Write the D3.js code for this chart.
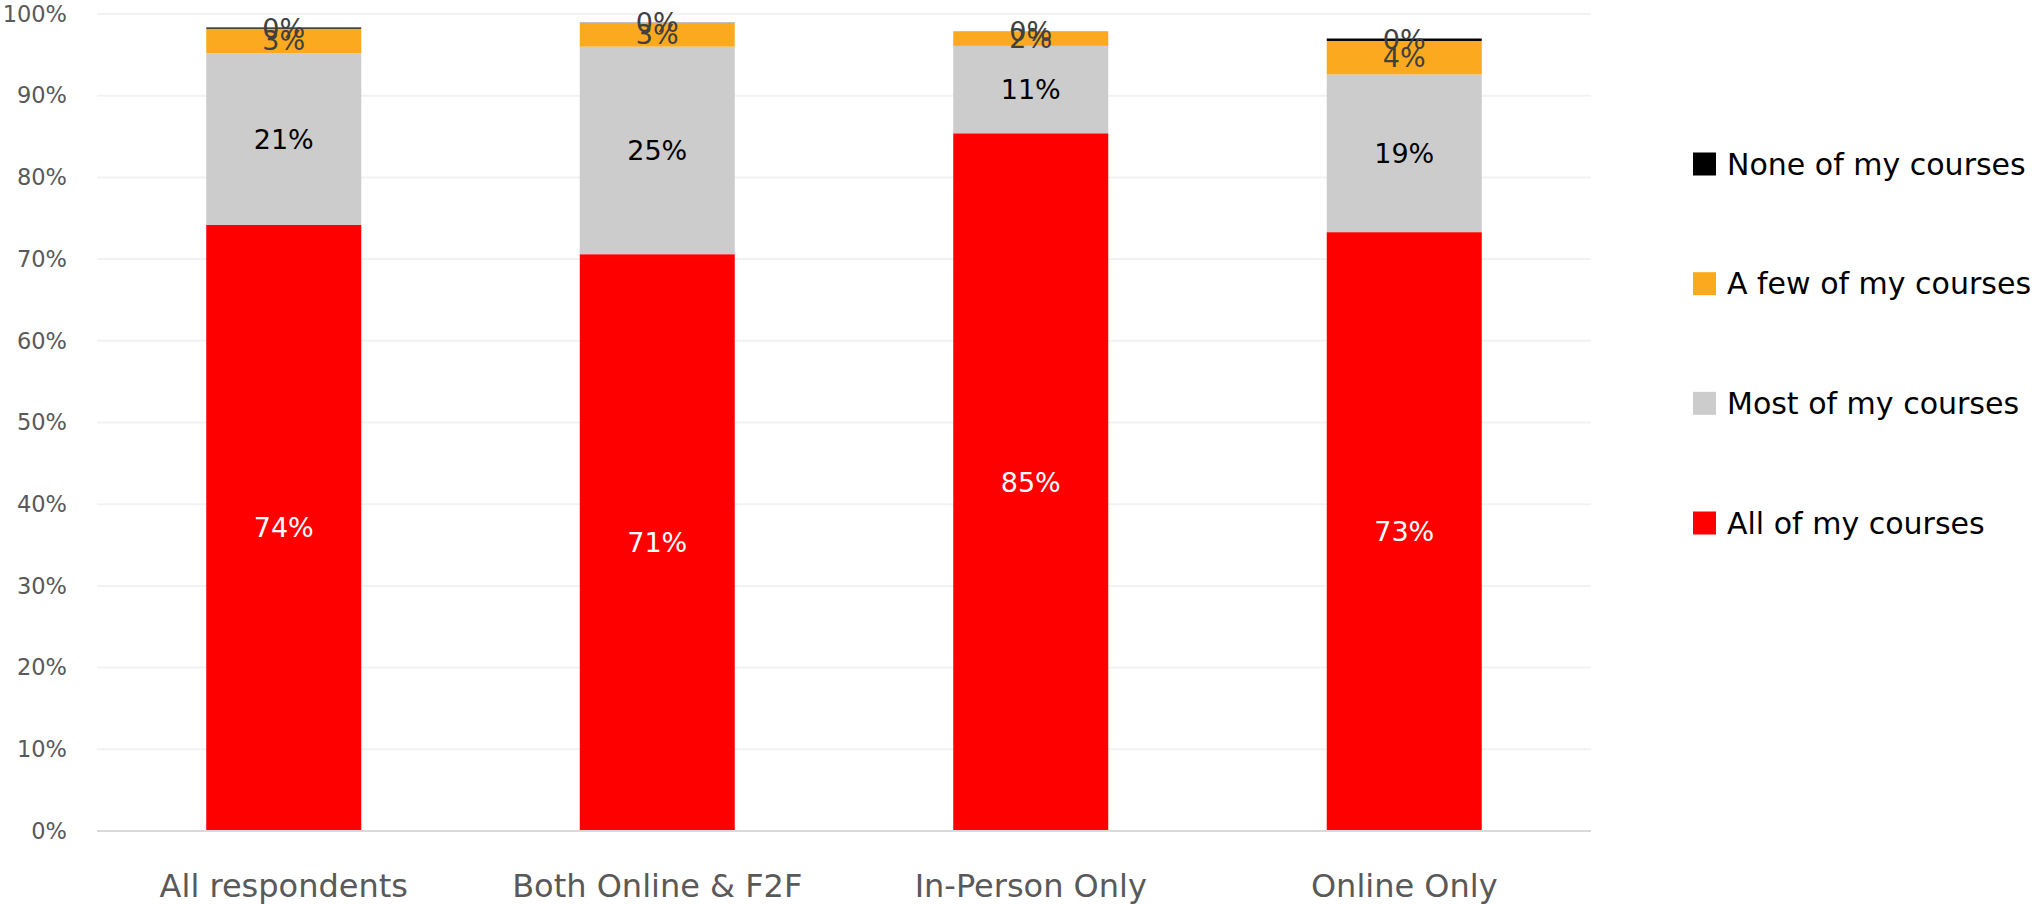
<!DOCTYPE html>
<html>
<head>
<meta charset="utf-8">
<script src="https://cdn.jsdelivr.net/npm/d3@7"></script>
<style>
  html, body { margin: 0; padding: 0; background: #fff; }
  svg { display: block; font-family: "DejaVu Sans", "Noto Sans", sans-serif; }
</style>
</head>
<body>
<svg id="chart" width="2039" height="904"></svg>
<script>
// ---- Data ----
const categories = ["All respondents", "Both Online & F2F", "In-Person Only", "Online Only"];
const allCourses  = [74.2, 70.6, 85.4, 73.3];
const mostCourses = [21.0, 25.4, 10.7, 19.3];
const fewCourses  = [3.0, 2.9, 1.7, 4.1];
const noneCourses = [0.15, 0.03, 0.03, 0.3];
const seriesNames = ["All of my courses", "Most of my courses", "A few of my courses", "None of my courses"];
const seriesColors = ["#ff0000", "#cccccc", "#fbaa1f", "#000000"];
const labelColors = ["#ffffff", "#000000", "#404040", "#404040"];
const yTicks = [0, 10, 20, 30, 40, 50, 60, 70, 80, 90, 100];

const seriesValues = [allCourses, mostCourses, fewCourses, noneCourses];

// ---- Layout ----
const svg = d3.select("#chart");
const plot = { left: 97, right: 1591, top: 14, bottom: 831 };

const x = d3.scaleBand().domain(categories).range([plot.left, plot.right]).paddingInner(0.585).paddingOuter(0.2925);
const y = d3.scaleLinear().domain([0, 100]).range([plot.bottom, plot.top]);

// gridlines
svg.append("g").selectAll("line").data(yTicks.filter(d => d > 0)).join("line")
  .attr("x1", plot.left).attr("x2", plot.right)
  .attr("y1", d => y(d)).attr("y2", d => y(d))
  .attr("stroke", "#f2f2f2").attr("stroke-width", 2);

// y axis labels
const yAxis = d3.axisLeft(y).tickValues(yTicks).tickFormat(d => d + "%").tickSize(0).tickPadding(0);
const yG = svg.append("g").attr("transform", `translate(${plot.left - 30},0)`).call(yAxis);
yG.select(".domain").remove();
yG.selectAll("text").attr("font-size", 22.5).attr("fill", "#595959")
  .attr("font-family", '"DejaVu Sans", sans-serif');

// stacked data
const rows = categories.map((c, i) => {
  const o = { category: c };
  seriesNames.forEach((s, j) => o[s] = seriesValues[j][i]);
  return o;
});
const stack = d3.stack().keys(seriesNames);
const stacked = stack(rows);

const groups = svg.append("g").selectAll("g").data(stacked).join("g")
  .attr("fill", (d, i) => seriesColors[i]);
groups.selectAll("rect").data(d => d).join("rect")
  .attr("x", d => x(d.data.category))
  .attr("width", x.bandwidth())
  .attr("y", d => y(d[1]))
  .attr("height", d => Math.max(0, y(d[0]) - y(d[1])));

// baseline
svg.append("line").attr("x1", plot.left).attr("x2", plot.right)
  .attr("y1", y(0)).attr("y2", y(0)).attr("stroke", "#d9d9d9").attr("stroke-width", 2);

// data labels
const labelG = svg.append("g");
stacked.forEach((layer, i) => {
  labelG.selectAll(null).data(layer).join("text")
    .attr("x", d => x(d.data.category) + x.bandwidth() / 2)
    .attr("y", d => (y(d[0]) + y(d[1])) / 2)
    .attr("text-anchor", "middle")
    .attr("dominant-baseline", "central")
    .attr("font-size", 27)
    .attr("fill", labelColors[i])
    .text(d => Math.round(d[1] - d[0]) + "%");
});

// x axis labels
const xAxis = d3.axisBottom(x).tickSize(0).tickPadding(0);
const xG = svg.append("g").attr("transform", `translate(0,${plot.bottom + 55})`).call(xAxis);
xG.select(".domain").remove();
xG.selectAll("text").attr("font-size", 32).attr("fill", "#595959")
  .attr("font-family", '"DejaVu Sans", sans-serif').attr("dy", "0.35em");

// legend
const legendOrder = [3, 2, 1, 0];
const legend = svg.append("g");
const legendY = d3.scalePoint().domain(legendOrder).range([164, 523]);
legendOrder.forEach(i => {
  const cy = legendY(i);
  legend.append("rect").attr("x", 1693).attr("y", cy - 11.5).attr("width", 23).attr("height", 23)
    .attr("fill", seriesColors[i]);
  legend.append("text").attr("x", 1727).attr("y", cy).attr("dominant-baseline", "central")
    .attr("font-size", 30).attr("fill", "#000").text(seriesNames[i]);
});
</script>
</body>
</html>
